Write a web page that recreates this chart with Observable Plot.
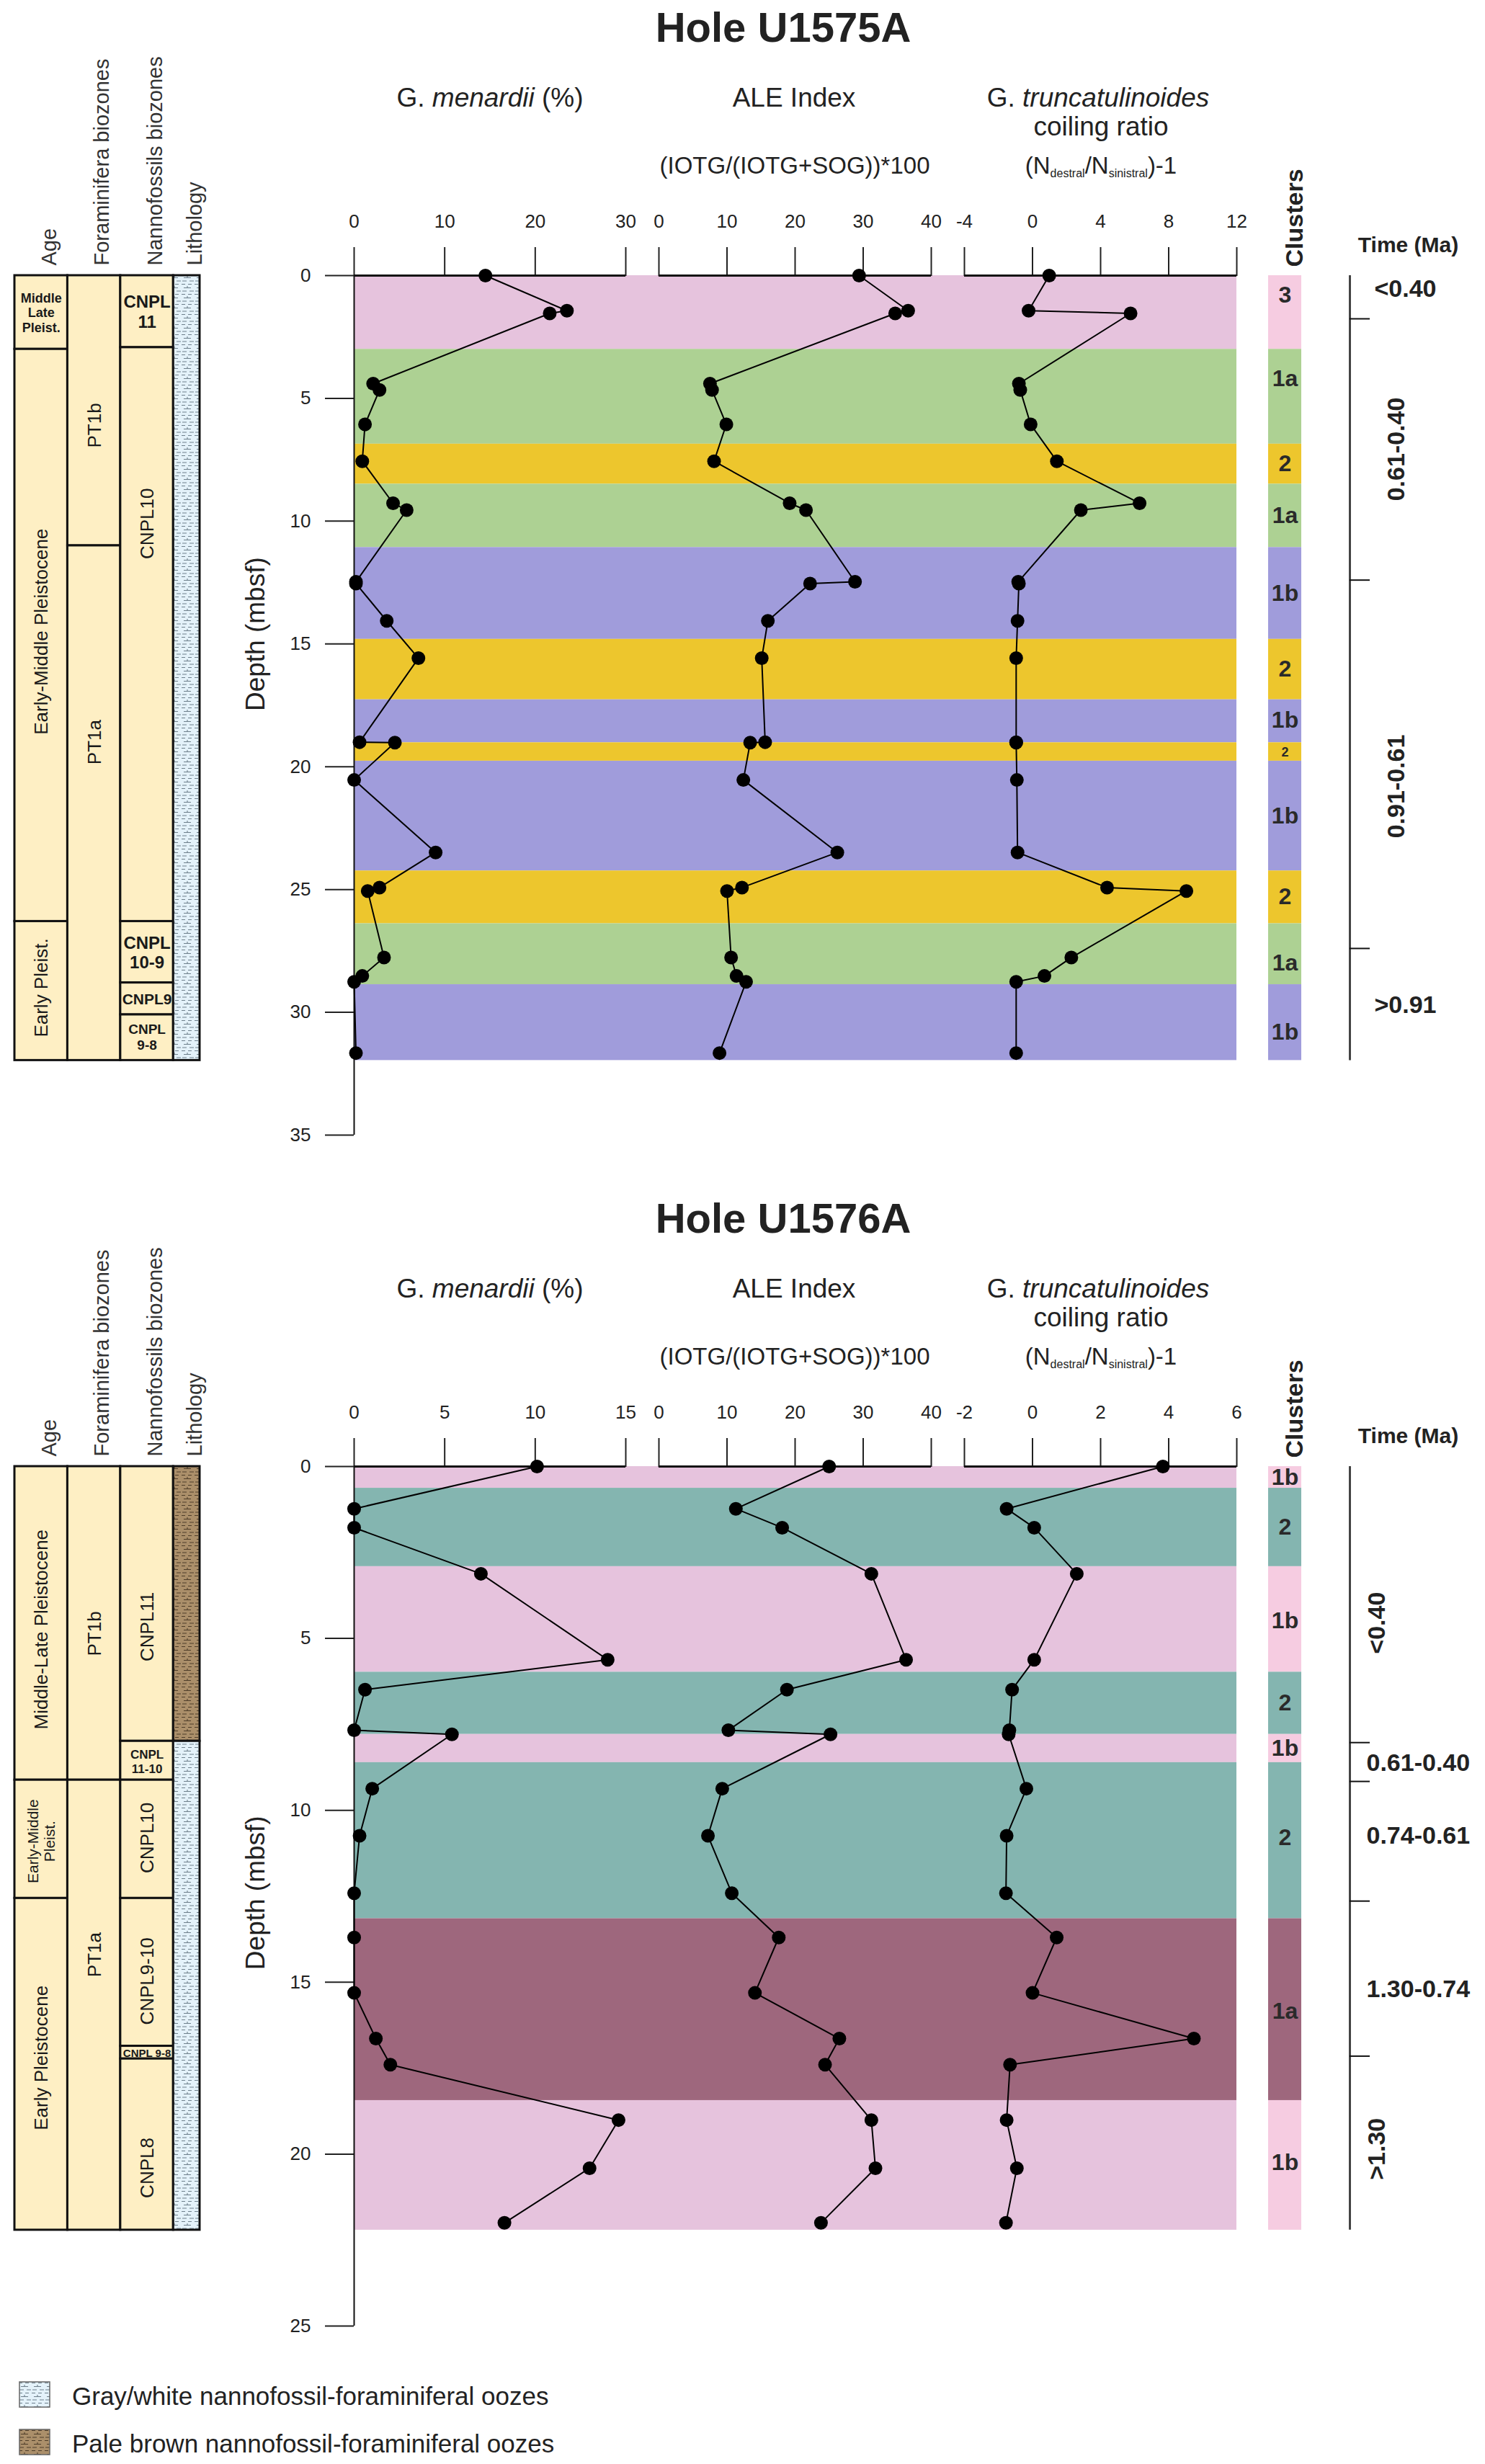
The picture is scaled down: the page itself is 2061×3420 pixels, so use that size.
<!DOCTYPE html>
<html>
<head>
<meta charset="utf-8">
<script src="https://cdn.jsdelivr.net/npm/d3@7"></script>
<script src="https://cdn.jsdelivr.net/npm/@observablehq/plot@0.6"></script>
<style>
  html, body { margin: 0; padding: 0; background: #fff; }
  body { font-family: "Liberation Sans", Arial, Helvetica, sans-serif; color: #222; }
  #page { position: relative; width: 2061px; height: 3420px; overflow: hidden; background: #fff; }
  .hole { position: absolute; left: 0; width: 2061px; height: 1600px; }
  .lbl { position: absolute; white-space: nowrap; line-height: 1; transform: translateX(-50%); color: #222; }
  .lbl sub { font-size: 16px; line-height: 0; vertical-align: -0.3em; }
  .legend-item { position: absolute; left: 27px; height: 36px; }
  .legend-text { position: absolute; left: 100px; white-space: nowrap; font-size: 35px; line-height: 1; color: #222; }
</style>
</head>
<body>
<div id="page"></div>
<script>
// ====================== DATA ======================
// ---------- Hole U1575A ----------
const u1575Depth    = [0, 1.43, 1.54, 4.40, 4.66, 6.06, 7.56, 9.27, 9.55, 12.47, 12.54, 14.06, 15.58, 19.00, 19.02, 20.54, 23.49, 24.92, 25.06, 27.77, 28.52, 28.76, 31.66];
const u1575Menardii = [14.5, 23.5, 21.6, 2.1, 2.8, 1.2, 0.9, 4.3, 5.8, 0.2, 0.2, 3.6, 7.1, 0.6, 4.5, 0.0, 9.0, 2.8, 1.5, 3.3, 0.9, 0.0, 0.2];
const u1575Ale      = [29.4, 36.6, 34.7, 7.5, 7.8, 9.9, 8.1, 19.2, 21.6, 28.8, 22.2, 16.0, 15.1, 15.6, 13.4, 12.4, 26.2, 12.2, 10.0, 10.6, 11.4, 12.8, 8.9];
const u1575Coiling  = [0.98, -0.23, 5.76, -0.80, -0.72, -0.11, 1.43, 6.29, 2.84, -0.84, -0.80, -0.88, -0.96, -0.96, -0.96, -0.92, -0.88, 4.38, 9.04, 2.28, 0.70, -0.96, -0.96];
const u1575MenardiiTicks = [0, 10, 20, 30];
const u1575CoilTicks     = [-4, 0, 4, 8, 12];
const u1575BandTop   = [0, 3.00, 6.86, 8.49, 11.07, 14.81, 17.27, 19.02, 19.77, 24.24, 26.39, 28.87];
const u1575BandBase  = [3.00, 6.86, 8.49, 11.07, 14.81, 17.27, 19.02, 19.77, 24.24, 26.39, 28.87, 31.96];
const u1575Cluster   = ["3", "1a", "2", "1a", "1b", "2", "1b", "2", "1b", "2", "1a", "1b"];
const u1575ClusterLabelDepth = [0.8, 4.2, 7.67, 9.78, 12.94, 16.04, 18.1, 19.4, 22.0, 25.3, 28.0, 30.8];
const u1575TimeTicks = [1.76, 12.4, 27.4];
const u1575TimeLabels = ["<0.40", "0.61-0.40", "0.91-0.61", ">0.91"];
const u1575TimeLabelDepth = [0.56, 7.07, 20.8, 29.7];
const u1575TimeLabelRotated = [false, true, true, false];
const u1575Strat = [
  {col: 0, top: 0, base: 3.0}, {col: 0, top: 3.0, base: 26.3}, {col: 0, top: 26.3, base: 31.96},
  {col: 1, top: 0, base: 11.0}, {col: 1, top: 11.0, base: 31.96},
  {col: 2, top: 0, base: 2.93}, {col: 2, top: 2.93, base: 26.3}, {col: 2, top: 26.3, base: 28.8},
  {col: 2, top: 28.8, base: 30.1}, {col: 2, top: 30.1, base: 31.96},
  {col: 3, top: 0, base: 31.96, litho: "gray"}
];
const u1575StratLabels = [
  {col: 0, depth: 1.5, text: "Middle\nLate\nPleist."},
  {col: 0, depth: 14.5, text: "Early-Middle Pleistocene"},
  {col: 0, depth: 29.0, text: "Early Pleist."},
  {col: 1, depth: 6.1, text: "PT1b"},
  {col: 1, depth: 19.0, text: "PT1a"},
  {col: 2, depth: 1.45, text: "CNPL\n11"},
  {col: 2, depth: 10.1, text: "CNPL10"},
  {col: 2, depth: 27.55, text: "CNPL\n10-9"},
  {col: 2, depth: 29.45, text: "CNPL9"},
  {col: 2, depth: 31.0, text: "CNPL\n9-8"}
];

// ---------- Hole U1576A ----------
const u1576Depth    = [0, 1.23, 1.78, 3.12, 5.62, 6.49, 7.67, 7.79, 9.37, 10.74, 12.41, 13.70, 15.31, 16.64, 17.40, 19.01, 20.41, 22.0];
const u1576Menardii = [10.1, 0.0, 0.0, 7.0, 14.0, 0.6, 0.0, 5.4, 1.0, 0.3, 0.0, 0.0, 0.0, 1.2, 2.0, 14.6, 13.0, 8.3];
const u1576Ale      = [25.0, 11.3, 18.1, 31.2, 36.3, 18.8, 10.2, 25.2, 9.3, 7.2, 10.7, 17.6, 14.1, 26.5, 24.4, 31.2, 31.8, 23.8];
const u1576Coiling  = [3.83, -0.76, 0.05, 1.30, 0.05, -0.60, -0.68, -0.70, -0.18, -0.76, -0.78, 0.71, 0.0, 4.74, -0.66, -0.76, -0.46, -0.78];
const u1576MenardiiTicks = [0, 5, 10, 15];
const u1576CoilTicks     = [-2, 0, 2, 4, 6];
const u1576BandTop   = [0, 0.63, 2.91, 5.98, 7.79, 8.61, 13.15, 18.44];
const u1576BandBase  = [0.63, 2.91, 5.98, 7.79, 8.61, 13.15, 18.44, 22.21];
const u1576Cluster   = ["1b", "2", "1b", "2", "1b", "2", "1a", "1b"];
const u1576ClusterLabelDepth = [0.32, 1.77, 4.5, 6.88, 8.2, 10.8, 15.85, 20.25];
const u1576TimeTicks = [8.03, 9.16, 12.64, 17.15];
const u1576TimeLabels = ["<0.40", "0.61-0.40", "0.74-0.61", "1.30-0.74", ">1.30"];
const u1576TimeLabelDepth = [4.55, 8.62, 10.75, 15.2, 19.85];
const u1576TimeLabelRotated = [true, false, false, false, true];
const u1576Strat = [
  {col: 0, top: 0, base: 9.12}, {col: 0, top: 9.12, base: 12.56}, {col: 0, top: 12.56, base: 22.21},
  {col: 1, top: 0, base: 9.12}, {col: 1, top: 9.12, base: 22.21},
  {col: 2, top: 0, base: 7.99}, {col: 2, top: 7.99, base: 9.12}, {col: 2, top: 9.12, base: 12.56},
  {col: 2, top: 12.56, base: 16.86}, {col: 2, top: 16.86, base: 17.23}, {col: 2, top: 17.23, base: 22.21},
  {col: 3, top: 0, base: 7.99, litho: "brown"}, {col: 3, top: 7.99, base: 22.21, litho: "gray"}
];
const u1576StratLabels = [
  {col: 0, depth: 4.74, text: "Middle-Late Pleistocene"},
  {col: 0, depth: 10.9, text: "Early-Middle\nPleist."},
  {col: 0, depth: 17.2, text: "Early Pleistocene"},
  {col: 1, depth: 4.86, text: "PT1b"},
  {col: 1, depth: 14.2, text: "PT1a"},
  {col: 2, depth: 4.66, text: "CNPL11"},
  {col: 2, depth: 8.58, text: "CNPL\n11-10"},
  {col: 2, depth: 10.8, text: "CNPL10"},
  {col: 2, depth: 14.97, text: "CNPL9-10"},
  {col: 2, depth: 17.05, text: "CNPL 9-8"},
  {col: 2, depth: 20.4, text: "CNPL8"}
];

// ---------- shared ----------
const aleTicks = [0, 10, 20, 30, 40];
const stratColumns = ["Age", "Foraminifera biozones", "Nannofossils biozones", "Lithology"];
const legendItems = ["Gray/white nannofossil-foraminiferal oozes", "Pale brown nannofossil-foraminiferal oozes"];

// ====================== STYLE / LAYOUT ======================
const W = 2061, HOLE_H = 1600, TOP = 382, BOTTOM = 25;
const FONT = '"Liberation Sans", Arial, Helvetica, sans-serif';
const CREAM = "#FEEFC4";
const colEdges = [0, 1, 2, 3, 3.5];
const stratFill = {cream: CREAM, gray: "url(#litho-gray)", brown: "url(#litho-brown)"};
const boldStrat = new Set(["Middle\nLate\nPleist.", "CNPL\n11", "CNPL\n10-9", "CNPL9", "CNPL\n9-8", "CNPL\n11-10", "CNPL 9-8"]);
const stratSize = {"Middle\nLate\nPleist.": 18, "CNPL\n11": 24, "CNPL\n10-9": 24, "CNPL9": 21, "CNPL\n9-8": 19,
                   "CNPL\n11-10": 17, "CNPL 9-8": 15, "Early-Middle\nPleist.": 21};

const HOLES = [
  {top: 0, title: "Hole U1575A", maxDepth: 35, depthLabelAt: 14.6,
   depth: u1575Depth, menardii: u1575Menardii, ale: u1575Ale, coiling: u1575Coiling,
   menardiiTicks: u1575MenardiiTicks, coilTicks: u1575CoilTicks,
   bandTop: u1575BandTop, bandBase: u1575BandBase, cluster: u1575Cluster, labelDepth: u1575ClusterLabelDepth,
   strat: u1575Strat, stratLabels: u1575StratLabels,
   timeTicks: u1575TimeTicks, timeLabels: u1575TimeLabels, timeLabelDepth: u1575TimeLabelDepth, timeRot: u1575TimeLabelRotated,
   timeDxH: 34, timeDxR: 65,
   plotColor: {"3": "#E6C3DD", "1a": "#ADD193", "2": "#EDC62D", "1b": "#A09CDB"},
   columnColor: {"3": "#F6CCE1", "1a": "#ADD193", "2": "#EDC62D", "1b": "#A09CDB"}},
  {top: 1653, title: "Hole U1576A", maxDepth: 25, depthLabelAt: 12.4,
   depth: u1576Depth, menardii: u1576Menardii, ale: u1576Ale, coiling: u1576Coiling,
   menardiiTicks: u1576MenardiiTicks, coilTicks: u1576CoilTicks,
   bandTop: u1576BandTop, bandBase: u1576BandBase, cluster: u1576Cluster, labelDepth: u1576ClusterLabelDepth,
   strat: u1576Strat, stratLabels: u1576StratLabels,
   timeTicks: u1576TimeTicks, timeLabels: u1576TimeLabels, timeLabelDepth: u1576TimeLabelDepth, timeRot: u1576TimeLabelRotated,
   timeDxH: 23, timeDxR: 38,
   plotColor: {"1b": "#E6C3DD", "2": "#84B5B0", "1a": "#9E677D"},
   columnColor: {"1b": "#F6CCE1", "2": "#84B5B0", "1a": "#9E677D"}}
];

// ====================== PATTERNS ======================
const defs = d3.select("body").append("svg")
  .attr("width", 0).attr("height", 0)
  .style("position", "absolute").style("left", "0").style("top", "0")
  .append("defs");
function makePattern(id, bg, fg) {
  const p = defs.append("pattern").attr("id", id)
    .attr("patternUnits", "userSpaceOnUse").attr("width", 18).attr("height", 14);
  p.append("rect").attr("width", 18).attr("height", 14).attr("fill", bg);
  p.append("path")
    .attr("d", "M0,2.5H5M9,2.5H14M3,7.5H13M8,5V7.5M1,12H7M11,12H17")
    .attr("stroke", fg).attr("stroke-width", 1.1).attr("fill", "none");
}
makePattern("litho-gray", "#E4F2FA", "#6E808C");
makePattern("litho-brown", "#AB8F6A", "#4E3D29");

// ====================== DRAW ======================
const page = document.getElementById("page");

function mk(host, o) {
  const s = Plot.plot(Object.assign({
    width: W, height: HOLE_H, marginTop: TOP, marginBottom: BOTTOM,
    style: {background: "transparent", overflow: "visible", fontFamily: FONT, fontSize: "26px", color: "#222"}
  }, o));
  s.style.position = "absolute"; s.style.left = "0px"; s.style.top = "0px";
  host.appendChild(s);
  return s;
}

function addText(host, html, cx, baseline, size, weight) {
  const d = document.createElement("div");
  d.className = "lbl";
  d.style.left = cx + "px";
  d.style.top = (baseline - 0.8465 * size) + "px";
  d.style.fontSize = size + "px";
  d.style.fontWeight = weight || "normal";
  d.innerHTML = html;
  host.appendChild(d);
}

function drawHole(cfg) {
  const host = document.createElement("div");
  host.className = "hole";
  host.style.top = cfg.top + "px";
  page.appendChild(host);

  const yScale = {domain: [0, cfg.maxDepth], reverse: true, axis: null};
  const pxPerM = (HOLE_H - TOP - BOTTOM) / cfg.maxDepth;
  const rows = cfg.depth.map((d, i) => ({depth: d, menardii: cfg.menardii[i], ale: cfg.ale[i], coiling: cfg.coiling[i]}));
  const bands = cfg.bandTop.map((t, i) => ({top: t, base: cfg.bandBase[i], cluster: cfg.cluster[i], labelDepth: cfg.labelDepth[i]}));

  // Headings (HTML text above the SVG frames)
  addText(host, cfg.title, 1087, 58, 58, "bold");
  addText(host, "G. <i>menardii</i> (%)", 680, 148, 37);
  addText(host, "ALE Index", 1102, 148, 37);
  addText(host, "G. <i>truncatulinoides</i>", 1524, 148, 37);
  addText(host, "coiling ratio", 1528, 188, 37);
  addText(host, "(IOTG/(IOTG+SOG))*100", 1103, 241, 33);
  addText(host, "(N<sub>destral</sub>/N<sub>sinistral</sub>)-1", 1528, 241, 33);

  // Background: cluster bands + depth axis
  mk(host, {
    marginLeft: 491, marginRight: W - 1716,
    x: {domain: [0, 1], axis: null}, y: yScale, color: {type: "identity"},
    marks: [
      Plot.rect(bands, {x1: 0, x2: 1, y1: "top", y2: "base", fill: d => cfg.plotColor[d.cluster]}),
      Plot.axisY({anchor: "left", ticks: d3.range(0, cfg.maxDepth + 1, 5), tickSize: 40, tickPadding: 20,
                  tickFormat: d => String(d), fontSize: 26, strokeWidth: 2, label: null}),
      Plot.ruleX([0], {y1: 0, y2: cfg.maxDepth, strokeWidth: 2, stroke: "#111"}),
      Plot.text([{t: "Depth (mbsf)", d: cfg.depthLabelAt}], {x: 0, y: "d", text: "t", dx: -136, rotate: -90, fontSize: 37})
    ]
  });

  // Stratigraphic columns
  const center = c => (colEdges[c] + colEdges[c + 1]) / 2;
  const rotLabels = cfg.stratLabels.filter(d => !boldStrat.has(d.text));
  const boldLabels = cfg.stratLabels.filter(d => boldStrat.has(d.text));
  mk(host, {
    marginLeft: 20, marginRight: W - 277,
    x: {domain: [0, 3.5], axis: null}, y: yScale, color: {type: "identity"},
    marks: [
      Plot.rect(cfg.strat, {x1: d => colEdges[d.col], x2: d => colEdges[d.col + 1], y1: "top", y2: "base",
                            fill: d => stratFill[d.litho || "cream"], stroke: "#111", strokeWidth: 3}),
      Plot.text(rotLabels, {x: d => center(d.col), y: "depth", text: "text", rotate: -90, lineHeight: 1.1,
                            fontSize: d => stratSize[d.text] || 26, fill: "#1a1a1a"}),
      Plot.text(boldLabels, {x: d => center(d.col), y: "depth", text: "text", lineHeight: 1.15, fontWeight: "bold",
                             fontSize: d => stratSize[d.text] || 20, fill: "#1a1a1a"}),
      Plot.text(stratColumns, {x: (d, i) => center(i), text: d => d, frameAnchor: "top", dy: -14, rotate: -90,
                               textAnchor: "start", fontSize: 29, fill: "#333"})
    ]
  });

  // Clusters column
  mk(host, {
    marginLeft: 1760, marginRight: W - 1806,
    x: {domain: [0, 1], axis: null}, y: yScale, color: {type: "identity"},
    marks: [
      Plot.rect(bands, {x1: 0, x2: 1, y1: "top", y2: "base", fill: d => cfg.columnColor[d.cluster]}),
      Plot.text(bands, {x: 0.5, y: "labelDepth", text: "cluster", fontWeight: "bold", fill: "#2a2a2a",
                        fontSize: d => ((d.base - d.top) * pxPerM < 28 ? 18 : 32)}),
      Plot.text(["Clusters"], {text: d => d, frameAnchor: "top", dy: -12, rotate: -90, textAnchor: "start",
                               fontWeight: "bold", fontSize: 34, fill: "#222"})
    ]
  });

  // Time column
  const tl = cfg.timeLabels.map((t, i) => ({text: t, depth: cfg.timeLabelDepth[i], rot: cfg.timeRot[i]}));
  const timeEnd = cfg.bandBase[cfg.bandBase.length - 1];
  mk(host, {
    marginLeft: 1873, marginRight: W - 1901,
    x: {domain: [0, 1], axis: null}, y: yScale,
    marks: [
      Plot.ruleX([0], {y1: 0, y2: timeEnd, stroke: "#444", strokeWidth: 3}),
      Plot.ruleY(cfg.timeTicks, {x1: 0, x2: 1, stroke: "#111", strokeWidth: 2}),
      Plot.text(tl.filter(d => !d.rot), {x: 0, y: "depth", text: "text", dx: cfg.timeDxH, textAnchor: "start",
                                         fontWeight: "bold", fontSize: 34, fill: "#222"}),
      Plot.text(tl.filter(d => d.rot), {x: 0, y: "depth", text: "text", dx: cfg.timeDxR, rotate: -90,
                                        fontWeight: "bold", fontSize: 34, fill: "#222"}),
      Plot.text(["Time (Ma)"], {text: d => d, frameAnchor: "top", dx: 67, dy: -33, lineAnchor: "bottom",
                                fontWeight: "bold", fontSize: 30, fill: "#222"})
    ]
  });

  // Data panels
  const panels = [
    {key: "menardii", x0: 491, x1: 868, ticks: cfg.menardiiTicks},
    {key: "ale", x0: 914, x1: 1292, ticks: aleTicks},
    {key: "coiling", x0: 1338, x1: 1716, ticks: cfg.coilTicks}
  ];
  for (const p of panels) {
    mk(host, {
      marginLeft: p.x0, marginRight: W - p.x1,
      x: {domain: [p.ticks[0], p.ticks[p.ticks.length - 1]]}, y: yScale,
      marks: [
        Plot.axisX({anchor: "top", ticks: p.ticks, tickSize: 40, tickPadding: 27, tickFormat: d => String(d),
                    fontSize: 26, strokeWidth: 2, label: null}),
        Plot.ruleY([0], {strokeWidth: 3, stroke: "#111"}),
        Plot.line(rows, {x: p.key, y: "depth", stroke: "#000", strokeWidth: 2}),
        Plot.dot(rows, {x: p.key, y: "depth", r: 9.5, fill: "#000"})
      ]
    });
  }
}

HOLES.forEach(drawHole);

// ====================== LEGEND ======================
const legendFills = ["url(#litho-gray)", "url(#litho-brown)"];
const legendTops = [3306, 3372];
legendItems.forEach((txt, i) => {
  const sw = d3.select(page).append("svg")
    .attr("width", 44).attr("height", 37)
    .style("position", "absolute").style("left", "26px").style("top", (legendTops[i] - 1) + "px");
  sw.append("rect").attr("x", 1).attr("y", 1).attr("width", 42).attr("height", 35)
    .attr("fill", legendFills[i]).attr("stroke", "#666").attr("stroke-width", 1.5);
  const t = document.createElement("div");
  t.className = "legend-text";
  t.style.top = (legendTops[i] + 32 - 0.8465 * 35) + "px";
  t.textContent = txt;
  page.appendChild(t);
});
</script>
</body>
</html>
